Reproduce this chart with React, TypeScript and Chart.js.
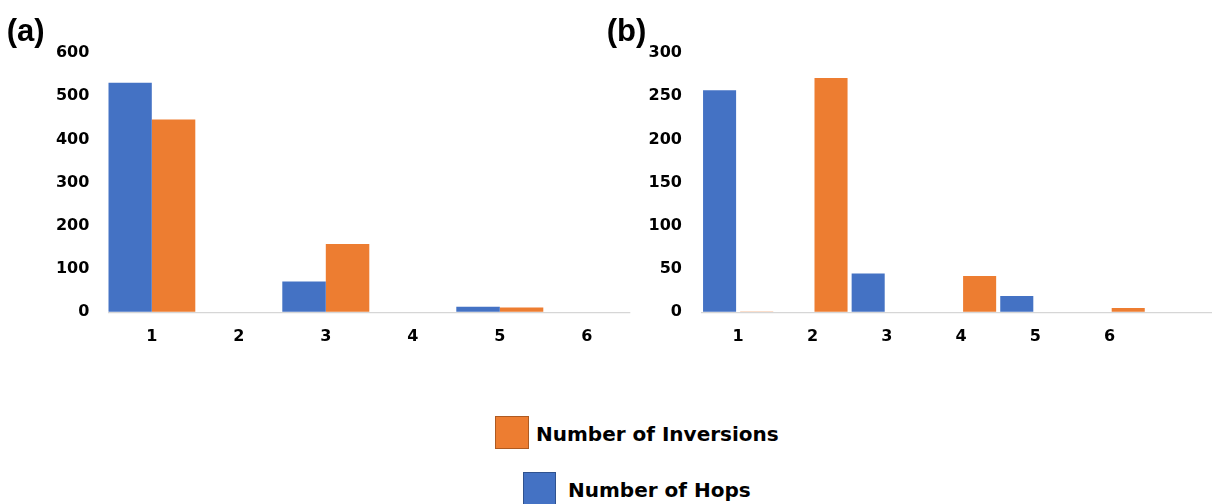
import React, { useEffect, useRef } from "react";
import { Chart, registerables } from "chart.js";

Chart.register(...registerables);

// ---- Data ----
const categoriesA = ["1", "2", "3", "4", "5", "6"];
const hopsA = [531, 0, 71, 0, 13, 0];
const inversionsA = [446, 0, 158, 0, 11, 0];

const categoriesB = ["1", "2", "3", "4", "5", "6", ""];
const hopsB = [257, 0, 45, 0, 19, 0, 0];
const inversionsB = [1, 271, 0, 42, 0, 5, 0];

const yMaxA = 600;
const yStepA = 100;
const yMaxB = 300;
const yStepB = 50;

const seriesNames = ["Number of Hops", "Number of Inversions"];

const BLUE = "#4472C4";
const ORANGE = "#ED7D31";
const TICK_FONT = { family: "'DejaVu Sans', sans-serif", weight: "bold" as const, size: 16 };

function makeConfig(
  labels: string[],
  hops: number[],
  inv: number[],
  yMax: number,
  yStep: number,
  padding: { left: number; right: number; top: number; bottom: number },
  barPct: number
): any {
  return {
    type: "bar",
    data: {
      labels,
      datasets: [
        {
          label: seriesNames[0],
          data: hops,
          backgroundColor: BLUE,
          borderWidth: 0,
          inflateAmount: 0,
          categoryPercentage: 1,
          barPercentage: barPct,
        },
        {
          label: seriesNames[1],
          data: inv,
          backgroundColor: ORANGE,
          borderWidth: 0,
          inflateAmount: 0,
          categoryPercentage: 1,
          barPercentage: barPct,
        },
      ],
    },
    options: {
      responsive: false,
      animation: false,
      devicePixelRatio: 1,
      layout: { padding },
      plugins: {
        legend: { display: false },
        tooltip: { enabled: false },
        title: { display: false },
      },
      scales: {
        x: {
          grid: { display: false, drawTicks: false },
          border: { display: false },
          ticks: {
            font: TICK_FONT,
            color: "#000",
            padding: 15,
            maxRotation: 0,
            autoSkip: false,
          },
          afterFit: (s: any) => {
            s.height = 40;
          },
        },
        y: {
          min: 0,
          max: yMax,
          grid: {
            drawTicks: false,
            color: (ctx: any) => (ctx.tick && ctx.tick.value === 0 ? "#d6d6d6" : "rgba(0,0,0,0)"),
            lineWidth: 1.2,
          },
          border: { display: false },
          ticks: {
            stepSize: yStep,
            font: TICK_FONT,
            color: "#000",
            padding: 19,
          },
          afterFit: (s: any) => {
            s.width = 80;
          },
        },
      },
    },
  };
}

function BarChart(props: {
  left: number;
  labels: string[];
  hops: number[];
  inv: number[];
  yMax: number;
  yStep: number;
  padding: { left: number; right: number; top: number; bottom: number };
  barPct: number;
}) {
  const ref = useRef<HTMLCanvasElement | null>(null);
  useEffect(() => {
    if (!ref.current) return;
    const chart = new Chart(
      ref.current,
      makeConfig(props.labels, props.hops, props.inv, props.yMax, props.yStep, props.padding, props.barPct)
    );
    return () => chart.destroy();
  }, []);
  return (
    <canvas
      ref={ref}
      width={640}
      height={380}
      style={{ position: "absolute", left: props.left, top: 0, width: 640, height: 380 }}
    />
  );
}

const panelLabelStyle: React.CSSProperties = {
  position: "absolute",
  fontFamily: "'Liberation Sans', Arial, sans-serif",
  fontWeight: "bold",
  fontSize: 31,
  lineHeight: "31px",
  color: "#000",
  whiteSpace: "nowrap",
};

const legendTextStyle: React.CSSProperties = {
  position: "absolute",
  fontFamily: "'DejaVu Sans', sans-serif",
  fontWeight: "bold",
  fontSize: 20,
  lineHeight: "20px",
  color: "#000",
  whiteSpace: "nowrap",
};

export default function App() {
  return (
    <div
      style={{
        position: "absolute",
        left: 0,
        top: 0,
        width: 1212,
        height: 504,
        overflow: "hidden",
        background: "#fff",
      }}
    >
      <BarChart
        left={0}
        labels={categoriesA}
        hops={hopsA}
        inv={inversionsA}
        yMax={yMaxA}
        yStep={yStepA}
        padding={{ left: 28.3, right: 9.7, top: 53, bottom: 27.7 }}
        barPct={1}
      />
      <BarChart
        left={600}
        labels={categoriesB}
        hops={hopsB}
        inv={inversionsB}
        yMax={yMaxB}
        yStep={yStepB}
        padding={{ left: 21, right: 18.9, top: 53, bottom: 27.7 }}
        barPct={0.89}
      />
      <div style={{ ...panelLabelStyle, left: 6.8, top: 14.5 }}>(a)</div>
      <div style={{ ...panelLabelStyle, left: 606.8, top: 14.5 }}>(b)</div>

      <div
        style={{
          position: "absolute",
          left: 495,
          top: 415.5,
          width: 33.5,
          height: 33.5,
          boxSizing: "border-box",
          background: ORANGE,
          border: "1px solid #AE5A21",
        }}
      />
      <div style={{ ...legendTextStyle, left: 536, top: 423.8 }}>{seriesNames[1]}</div>
      <div
        style={{
          position: "absolute",
          left: 522.7,
          top: 471.7,
          width: 33.5,
          height: 33.5,
          boxSizing: "border-box",
          background: BLUE,
          border: "1px solid #2F528F",
        }}
      />
      <div style={{ ...legendTextStyle, left: 568, top: 480.4 }}>{seriesNames[0]}</div>
    </div>
  );
}
